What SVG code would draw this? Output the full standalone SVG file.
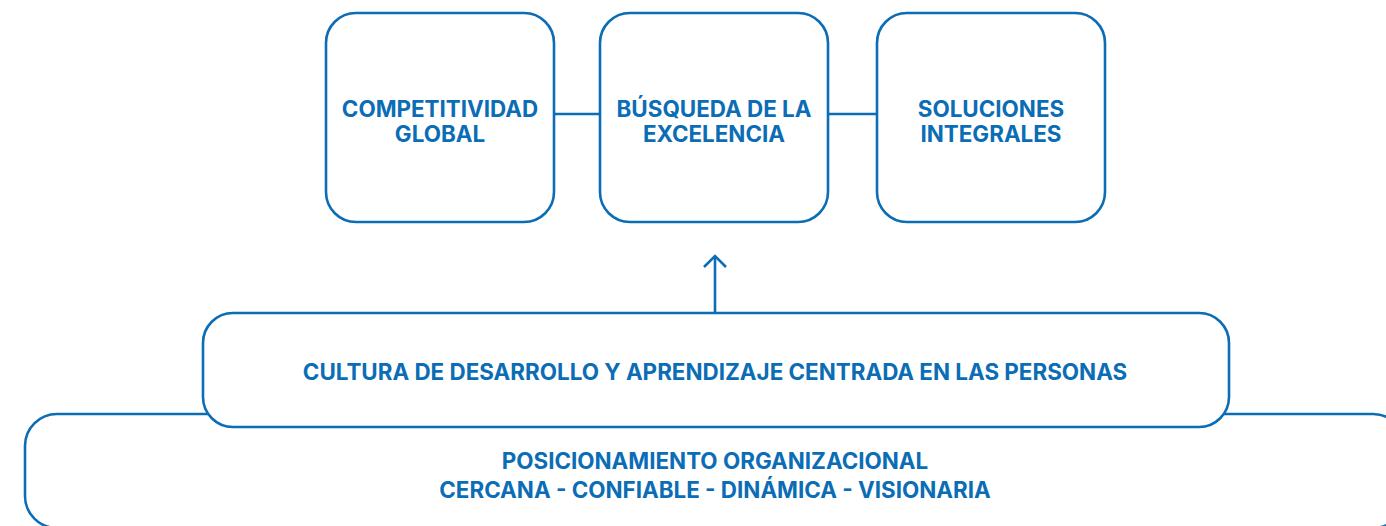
<svg xmlns="http://www.w3.org/2000/svg" width="1386" height="526" viewBox="0 0 1386 526">
<style>
.box{fill:#fff;stroke:#0b6db5;stroke-width:2.6}
.ln{fill:none;stroke:#0b6db5;stroke-width:2.6}
.t{font-family:Inter,"Liberation Sans",sans-serif;font-weight:700;font-size:22.4px;fill:#0b6db5;text-anchor:middle}
</style>
<g id="posicionamiento">
<rect class="box" x="25" y="414" width="1380" height="114" rx="32"/>
<text class="t" x="715" y="469">POSICIONAMIENTO ORGANIZACIONAL</text>
<text class="t" x="715" y="498">CERCANA - CONFIABLE - DINÁMICA - VISIONARIA</text>
</g>
<g id="cultura">
<rect class="box" x="203" y="313" width="1026" height="114" rx="30"/>
<text class="t" x="715" y="380">CULTURA DE DESARROLLO Y APRENDIZAJE CENTRADA EN LAS PERSONAS</text>
</g>
<g id="connectors">
<line class="ln" x1="554" y1="114" x2="600" y2="114"/>
<line class="ln" x1="828" y1="114" x2="877" y2="114"/>
<line class="ln" x1="715" y1="313" x2="715" y2="256"/>
<path class="ln" d="M704 267 L715 256 L726 267"/>
</g>
<g id="competitividad">
<rect class="box" x="326" y="13" width="228" height="209" rx="30"/>
<text class="t" x="440" y="116.5">COMPETITIVIDAD</text>
<text class="t" x="440" y="141.5">GLOBAL</text>
</g>
<g id="busqueda">
<rect class="box" x="600" y="13" width="228" height="209" rx="30"/>
<text class="t" x="714" y="116.5">BÚSQUEDA DE LA</text>
<text class="t" x="714" y="141.5">EXCELENCIA</text>
</g>
<g id="soluciones">
<rect class="box" x="877" y="13" width="228" height="209" rx="30"/>
<text class="t" x="991" y="116.5">SOLUCIONES</text>
<text class="t" x="991" y="141.5">INTEGRALES</text>
</g>
</svg>
